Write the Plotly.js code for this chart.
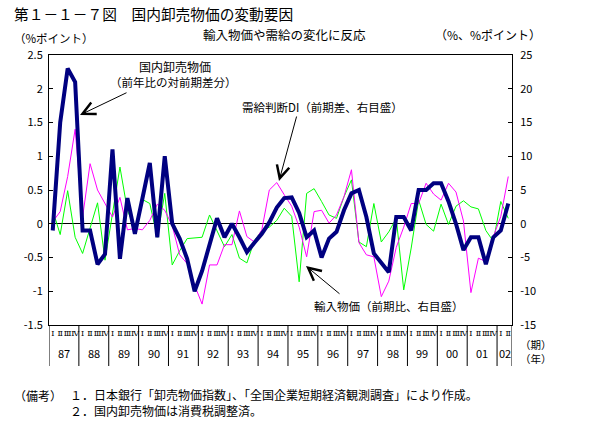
<!DOCTYPE html>
<html><head><meta charset="utf-8">
<script src="https://cdn.plot.ly/plotly-3.0.1.min.js"></script>
<style>html,body{margin:0;padding:0;background:#fff;} #chart{width:598px;height:426px;}</style>
</head><body><div id="chart"></div>
<script>
// ---- data ----
const years = ["87","88","89","90","91","92","93","94","95","96","97","98","99","00","01","02"];
const quarterNames = ["Ⅰ","Ⅱ","Ⅲ","Ⅳ"];
const quartersPerYear = [4,4,4,4,4,4,4,4,4,4,4,4,4,4,4,2];

// 国内卸売物価（前年比の対前期差分）, left axis, %point
const domesticWholesale = [-0.1, 1.5, 2.3, 2.1, -0.1, -0.1, -0.6, -0.45, 1.1, -0.52, 0.38, -0.15, 0.37, 0.9, -0.2, 1.0,
  0.0, -0.22, -0.52, -1.0, -0.7, -0.32, 0.08, -0.2, 0.0, -0.2, -0.42, -0.28, -0.15, 0.02, 0.24, 0.38,
  0.39, 0.16, -0.2, -0.1, -0.5, -0.22, -0.12, 0.2, 0.45, 0.5, 0.1, -0.44, -0.57, -0.72, 0.1, 0.1,
  -0.1, 0.5, 0.5, 0.6, 0.6, 0.33, 0.0, -0.39, -0.2, -0.2, -0.6, -0.2, -0.1, 0.3];
// 需給判断DI（前期差、右目盛）
const supplyDemandDI = [0.3, 1.8, 7.0, 14.0, 1.0, 8.9, 5.0, 3.1, 1.0, 3.9, -0.9, -0.7, -0.9, 0.5, 2.9, 2.0,
  -0.3, -4.6, -5.9, -9.1, -11.9, -6.1, -6.1, -3.1, -3.1, 1.9, -1.9, -2.7, -0.9, 5.0, 6.1, 4.3,
  2.6, -0.5, -4.9, 1.8, 2.0, 0.1, 1.3, 4.0, 8.0, -2.8, -4.6, -4.9, -10.8, -8.5, -3.5, -0.5,
  3.0, 3.0, 6.0, 4.4, 3.5, 6.0, 4.7, 0.4, -10.2, -5.1, -5.6, -1.9, 1.1, 7.0];
// 輸入物価（前期比、右目盛）
const importPrice = [2.0, -1.6, 4.9, -2.0, -4.4, -0.6, 3.1, -5.4, 1.5, 8.4, 2.0, -0.7, 3.6, 3.0, -2.0, 4.5,
  -6.1, -4.0, -2.2, -2.1, -2.0, 1.3, -1.1, -3.4, -1.6, -5.1, -5.8, -2.5, -1.0, -0.5, 0.5, 2.3,
  1.1, -8.6, 4.5, 5.2, 3.3, 1.3, 0.8, 4.0, 6.5, -2.7, -3.4, 3.0, -2.7, -1.2, 0.8, -9.8,
  -3.6, 3.5, -0.1, -1.1, 2.9, -0.1, 2.6, 3.4, 2.5, 2.2, -1.0, -2.6, 3.3, 0.8];

const leftTickVals = [-1.5, -1, -0.5, 0, 0.5, 1, 1.5, 2, 2.5];
const leftTickText = ["-1.5", "-1", "-0.5", "0", "0.5", "1", "1.5", "2", "2.5"];
const rightTickVals = [-15, -10, -5, 0, 5, 10, 15, 20, 25];
const rightTickText = ["-15", "-10", "-5", "0", "5", "10", "15", "20", "25"];

// ---- categories built from labels ----
const periods = [], quarterLabels = [], yearStart = [];
years.forEach((y, yi) => {
  yearStart.push(periods.length);
  for (let q = 0; q < quartersPerYear[yi]; q++) { periods.push(y + quarterNames[q]); quarterLabels.push(quarterNames[q]); }
});

// ---- layout helpers (pixel -> paper) ----
const W = 598, H = 426, PL = 49, PR = 512, PT = 55, PB = 325;
const fx = x => (x - PL) / (PR - PL);
const fy = y => (PB - y) / (PB - PT);
const JP = "Noto Sans CJK JP";

const traces = [
  { x: periods, y: importPrice, yaxis: 'y', type: 'scatter', mode: 'lines', line: { color: '#00FF00', width: 1 }, hoverinfo: 'skip' },
  { x: periods, y: supplyDemandDI, yaxis: 'y', type: 'scatter', mode: 'lines', line: { color: '#FF00FF', width: 1 }, hoverinfo: 'skip' },
  { x: periods, y: domesticWholesale, yaxis: 'y2', type: 'scatter', mode: 'lines', line: { color: '#000080', width: 4 }, hoverinfo: 'skip' }
];

const shapes = [];
const sepPositions = yearStart.map(s => s - 0.5).concat([periods.length - 0.5]);
sepPositions.forEach(p => shapes.push({ type: 'line', xref: 'x', yref: 'paper', x0: p, x1: p, y0: 0, y1: fy(366), line: { color: '#000', width: 1 } }));

const annotations = [];
years.forEach((y, yi) => {
  annotations.push({ text: y, xref: 'x', yref: 'paper', x: yearStart[yi] + (quartersPerYear[yi] - 1) / 2, y: fy(353), xanchor: 'center', yanchor: 'middle', showarrow: false, font: { family: JP, size: 11, color: '#000' } });
});
function txt(t, x, y, xa, size) {
  annotations.push({ text: t, xref: 'paper', yref: 'paper', x: fx(x), y: fy(y), xanchor: xa, yanchor: 'middle', align: 'left', showarrow: false, font: { family: JP, size: size, color: '#000' } });
}
txt("第１－１－７図　国内卸売物価の変動要因", 12, 14, 'left', 14.7);
txt("輸入物価や需給の変化に反応", 284, 35, 'center', 12.5);
txt("（%ポイント）", 12, 38, 'left', 11.5);
txt("（%、%ポイント）", 433, 35, 'left', 12);
txt("国内卸売物価", 175, 67, 'center', 12);
txt("（前年比の対前期差分）", 173, 82, 'center', 11.5);
txt("需給判断DI（前期差、右目盛）", 322, 107, 'center', 11.5);
txt("輸入物価（前期比、右目盛）", 389, 306, 'center', 11.5);
txt("（期）<br>（年）", 518, 351, 'left', 10.5);
txt("（備考）", 12, 395, 'left', 12);
txt("１．日本銀行「卸売物価指数」、「全国企業短期経済観測調査」により作成。<br>２．国内卸売物価は消費税調整済。", 68, 403, 'left', 12);

function arrow(tx, ty, tailx, taily) {
  annotations.push({ text: '', xref: 'paper', yref: 'paper', x: fx(tx), y: fy(ty), ax: tailx - tx, ay: taily - ty, showarrow: true, arrowhead: 5, arrowsize: 2.5, arrowwidth: 1, arrowcolor: '#000', standoff: 0 });
}
arrow(80, 115, 128, 92);
arrow(279, 181, 297, 115);
arrow(306, 266, 341, 295);

const layout = {
  width: W, height: H, autosize: false,
  margin: { l: PL, r: W - PR, t: PT, b: H - PB, pad: 0 },
  paper_bgcolor: '#fff', plot_bgcolor: '#fff', showlegend: false,
  font: { family: JP, color: '#000' },
  xaxis: { type: 'category', range: [-0.5, periods.length - 0.5], tickmode: 'array', tickvals: periods, ticktext: quarterLabels, tickangle: 0,
    tickfont: { family: "DejaVu Serif", size: 8 }, ticks: '', showgrid: false, zeroline: false, showline: true, mirror: true, linecolor: '#000', linewidth: 1 },
  yaxis: { side: 'right', range: [-15, 25], tickmode: 'array', tickvals: rightTickVals, ticktext: rightTickText, ticks: 'inside', ticklen: 4, tickcolor: '#000',
    ticklabelstandoff: 5, tickfont: { family: JP, size: 11 }, showgrid: false, zeroline: true, zerolinecolor: '#000', zerolinewidth: 1, showline: true, linecolor: '#000', linewidth: 1 },
  yaxis2: { overlaying: 'y', side: 'left', range: [-1.5, 2.5], tickmode: 'array', tickvals: leftTickVals, ticktext: leftTickText, ticks: 'inside', ticklen: 4, tickcolor: '#000',
    ticklabelstandoff: 3, tickfont: { family: JP, size: 11 }, showgrid: false, zeroline: false, showline: true, linecolor: '#000', linewidth: 1 },
  shapes: shapes, annotations: annotations
};
Plotly.newPlot('chart', traces, layout, { staticPlot: true, displayModeBar: false });
</script></body></html>
